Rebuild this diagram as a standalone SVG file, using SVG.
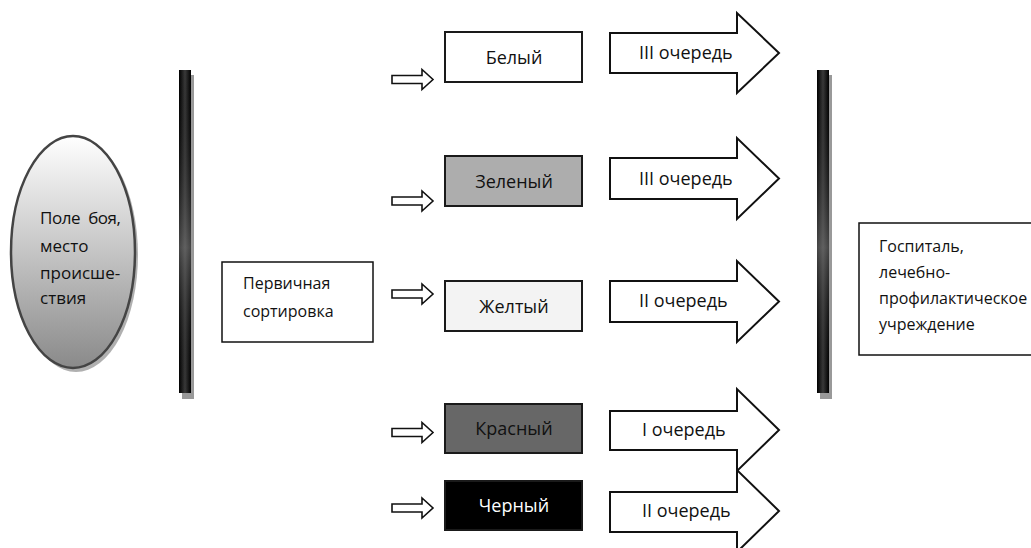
<svg xmlns="http://www.w3.org/2000/svg" width="1031" height="548" viewBox="0 0 1031 548">
<defs>
<linearGradient id="ellGrad" x1="0" y1="0" x2="0" y2="1">
<stop offset="0" stop-color="#ffffff"/>
<stop offset="1" stop-color="#8a8a8a"/>
</linearGradient>
<linearGradient id="barGrad" x1="0" y1="0" x2="1" y2="0">
<stop offset="0" stop-color="#000"/>
<stop offset="0.5" stop-color="#3a3a3a"/>
<stop offset="1" stop-color="#000"/>
</linearGradient>
<linearGradient id="barGradV" x1="0" y1="0" x2="0" y2="1">
<stop offset="0" stop-color="#000" stop-opacity="0"/>
<stop offset="0.55" stop-color="#888" stop-opacity="0.5"/>
<stop offset="1" stop-color="#000" stop-opacity="0"/>
</linearGradient>
</defs>
<style>
text{font-family:"Open Sans","Noto Sans","DejaVu Sans",sans-serif;font-size:16px;fill:#111}
.lg{font-size:18px}
.md{font-size:17px}
.box{stroke:#1a1a1a;stroke-width:2}
.frame{fill:#fff;stroke:#111;stroke-width:1.5}
.big{fill:#fff;stroke:#111;stroke-width:2;stroke-linejoin:miter}
.small{fill:#fff;stroke:#111;stroke-width:1.6}
.shadow{fill:#999}
.c{text-anchor:middle}
</style>

<g id="field">
<ellipse cx="76" cy="255" rx="62" ry="117" fill="#b0b0b0"/>
<ellipse cx="73" cy="252" rx="62" ry="116" fill="url(#ellGrad)" stroke="#444" stroke-width="2.5"/>
<text x="40" y="224" class="md" textLength="81" xml:space="preserve">Поле  боя,</text>
<text x="40" y="252" class="md">место</text>
<text x="40" y="279" class="md">происше-</text>
<text x="40" y="304" class="md">ствия</text>
</g>

<g id="bar-left">
<rect x="182" y="75" width="12" height="324" class="shadow"/>
<rect x="179" y="70" width="12" height="323" fill="url(#barGrad)"/>
<rect x="179" y="70" width="12" height="323" fill="url(#barGradV)"/>
</g>

<g id="primary">
<rect x="222" y="262" width="151" height="80" class="frame"/>
<text x="243" y="289">Первичная</text>
<text x="243" y="317">сортировка</text>
</g>

<g id="connectors">
<path class="small" d="M392,75.5 H422 V69.5 L433,79.5 L422,89.5 V83.5 H392 Z"/>
<path class="small" d="M392,197 H422 V191 L433,201 L422,211 V205 H392 Z"/>
<path class="small" d="M392,290 H422 V284 L433,294 L422,304 V298 H392 Z"/>
<path class="small" d="M392,428.5 H422 V422.5 L433,432.5 L422,442.5 V436.5 H392 Z"/>
<path class="small" d="M392,504 H422 V498 L433,508 L422,518 V512 H392 Z"/>
</g>

<g id="white">
<rect x="445" y="32" width="137" height="50" class="box" fill="#fff"/>
<text x="514" y="64" class="c lg">Белый</text>
</g>
<g id="green">
<rect x="445" y="156" width="137" height="50" class="box" fill="#adadad"/>
<text x="514" y="188" class="c lg">Зеленый</text>
</g>
<g id="yellow">
<rect x="445" y="281" width="137" height="50" class="box" fill="#f3f3f3"/>
<text x="514" y="313" class="c lg">Желтый</text>
</g>
<g id="red">
<rect x="445" y="404" width="137" height="49" class="box" fill="#676767"/>
<text x="514" y="435" class="c lg">Красный</text>
</g>
<g id="black">
<rect x="445" y="481" width="137" height="49" class="box" fill="#000"/>
<text x="514" y="512" class="c lg" style="fill:#fff">Черный</text>
</g>

<g id="queue1">
<path class="big" d="M610,33 H737 V13 L779,53 L737,93 V73 H610 Z"/>
<text x="639" y="59" class="lg">III очередь</text>
</g>
<g id="queue2">
<path class="big" d="M610,158 H737 V138 L779,178.5 L737,219 V199 H610 Z"/>
<text x="639" y="185" class="lg">III очередь</text>
</g>
<g id="queue3">
<path class="big" d="M610,281 H737 V261 L779,301.5 L737,342 V322 H610 Z"/>
<text x="639" y="307" class="lg">II очередь</text>
</g>
<g id="queue4">
<path class="big" d="M610,411 H737 V389 L779,430 L737,471 V450 H610 Z"/>
<text x="642" y="436" class="lg">I очередь</text>
</g>
<g id="queue5">
<path class="big" d="M610,492 H737 V470 L779,511 L737,552 V532 H610 Z"/>
<text x="642" y="517" class="lg">II очередь</text>
</g>

<g id="bar-right">
<rect x="820" y="75" width="12" height="324" class="shadow"/>
<rect x="817" y="70" width="12" height="323" fill="url(#barGrad)"/>
<rect x="817" y="70" width="12" height="323" fill="url(#barGradV)"/>
</g>

<g id="hospital">
<rect x="859" y="223" width="180" height="132" class="frame"/>
<text x="879" y="252">Госпиталь,</text>
<text x="879" y="278">лечебно-</text>
<text x="879" y="304">профилактическое</text>
<text x="879" y="330">учреждение</text>
</g>
</svg>
